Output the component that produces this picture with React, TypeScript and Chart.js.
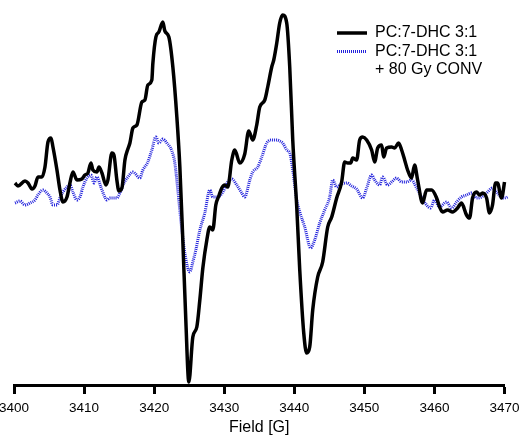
import { useEffect, useRef } from "react";
import { Chart, registerables } from "chart.js";

Chart.register(...registerables);

// EPR spectrum, PC:7-DHC 3:1 (untreated)
const fieldCtl = [
  3400.14, 3400.57, 3401.57, 3402.0, 3402.57, 3402.99, 3403.42, 3403.99, 3404.42, 3404.85,
  3405.28, 3405.56, 3406.13, 3406.56, 3406.99, 3407.56, 3407.98, 3408.41, 3408.98, 3409.69,
  3410.12, 3410.55, 3410.98, 3411.26, 3411.83, 3412.12, 3412.55, 3413.12, 3413.4, 3413.97,
  3414.26, 3414.68, 3414.97, 3415.4, 3415.83, 3416.25, 3416.54, 3416.97, 3417.54, 3418.25,
  3418.68, 3419.1, 3419.67, 3419.82, 3420.25, 3420.67, 3421.24, 3421.53, 3422.1, 3422.67,
  3423.24, 3423.67, 3424.09, 3424.52, 3424.95, 3425.52, 3426.09, 3426.52, 3426.95, 3427.52,
  3427.94, 3428.37, 3428.8, 3429.23, 3429.65, 3430.08, 3430.51, 3431.08, 3431.51, 3432.22,
  3432.93, 3433.5, 3434.07, 3434.64, 3435.07, 3435.79, 3436.21, 3436.78, 3437.07, 3437.5,
  3437.92, 3438.35, 3438.92, 3439.35, 3439.78, 3440.35, 3440.78, 3441.35, 3441.77, 3442.2,
  3442.63, 3443.34, 3444.05, 3444.77, 3445.34, 3446.05, 3446.76, 3447.19, 3447.62, 3448.05,
  3448.33, 3448.9, 3449.33, 3449.76, 3450.33, 3451.04, 3451.47, 3451.9, 3452.47, 3452.75,
  3453.18, 3453.89, 3454.32, 3454.89, 3455.32, 3455.75, 3456.17, 3456.74, 3457.17, 3457.6,
  3458.31, 3458.88, 3459.6, 3460.31, 3460.74, 3461.16, 3461.88, 3462.59, 3463.3, 3463.87,
  3464.58, 3465.01, 3465.44, 3466.01, 3466.44, 3466.87, 3467.44, 3467.86, 3468.29, 3468.72,
  3469.0, 3469.57, 3470.0, 3470.43, 3470.86, 3471.29,
];
const signalCtl = [
  12, 9, 14, 12, 6, 9, 18, 18, 28, 53,
  57, 48, 25, 5, -7, -2, 12, 23, 15, 16,
  20, 22, 32, 25, 23, 28, 22, 10, 15, 42,
  40, 15, 4, 7, 35, 46, 52, 67, 70, 93,
  95, 110, 115, 132, 158, 163, 173, 164, 158, 128,
  78, 28, -45, -125, -187, -142, -132, -105, -73, -45,
  -32, -35, -10, -1, 7, 10, 8, 35, 45, 32,
  41, 64, 55, 70, 88, 95, 108, 128, 135, 152,
  172, 180, 172, 128, 55, -12, -75, -138, -158, -152,
  -115, -82, -67, -32, -22, -3, 13, 33, 32, 32,
  37, 35, 55, 58, 55, 45, 33, 47, 50, 38,
  47, 48, 47, 52, 45, 35, 25, 17, 30, 15,
  -8, 5, 5, -3, -12, -17, -15, -17, -13, -8,
  -20, -23, -3, 3, 0, 2, -3, -18, -10, 12,
  12, -3, 13, 38, 28, 13,
];

// EPR spectrum, PC:7-DHC 3:1 after 80 Gy conventional irradiation
const fieldIrr = [
  3400.14, 3400.86, 3401.57, 3402.28, 3402.99, 3403.42, 3404.13, 3404.7, 3405.13, 3405.56,
  3406.13, 3406.56, 3406.99, 3407.56, 3407.98, 3408.41, 3408.98, 3409.41, 3409.84, 3410.41,
  3410.98, 3411.41, 3411.83, 3412.4, 3412.83, 3413.26, 3413.69, 3414.68, 3415.11, 3415.68,
  3416.25, 3416.97, 3417.96, 3418.39, 3419.1, 3419.67, 3420.25, 3420.67, 3421.24, 3421.81,
  3422.53, 3422.95, 3423.38, 3423.81, 3424.38, 3425.09, 3425.52, 3425.95, 3426.52, 3427.23,
  3427.94, 3428.37, 3429.08, 3429.8, 3430.51, 3431.08, 3431.79, 3432.51, 3432.93, 3433.65,
  3434.07, 3434.79, 3435.36, 3436.07, 3436.78, 3437.5, 3437.92, 3438.35, 3438.92, 3439.35,
  3439.78, 3440.35, 3440.78, 3441.49, 3442.34, 3442.91, 3443.63, 3444.34, 3445.05, 3445.48,
  3446.05, 3446.76, 3447.48, 3448.19, 3448.9, 3449.76, 3450.33, 3451.04, 3451.47, 3452.18,
  3452.61, 3453.32, 3453.89, 3454.6, 3455.32, 3456.03, 3456.74, 3457.46, 3458.17, 3458.88,
  3459.45, 3460.02, 3460.74, 3461.73, 3462.45, 3463.16, 3463.87, 3464.58, 3465.3, 3466.01,
  3466.72, 3467.44, 3468.29, 3469.0, 3469.72, 3470.43, 3471.14,
];
const signalIrr = [
  -8, -6, -10, -8, -5, 0, 5, 2, -2, -10,
  -10, -3, 3, 8, 10, 3, -5, -2, 8, 17,
  20, 12, 18, 8, 0, -5, -3, -3, 2, 12,
  18, 23, 17, 25, 33, 45, 58, 52, 56, 52,
  44, 32, 5, -25, -58, -77, -67, -55, -35, -18,
  5, -2, -2, 3, 13, 16, 10, 2, -2, 15,
  23, 28, 38, 52, 55, 55, 54, 52, 45, 42,
  25, -5, -17, -32, -53, -45, -28, -15, -2, 15,
  8, 11, 12, 9, 6, -3, 7, 20, 15, 10,
  18, 10, 13, 17, 13, 13, 15, 7, -2, -10,
  -13, -5, -12, -7, -13, -7, -2, 0, 2, -3,
  -2, 2, 7, 2, -3, -2, 2,
];

const fieldTicks = [3400, 3410, 3420, 3430, 3440, 3450, 3460, 3470];
const ctlLabel = ["PC:7-DHC 3:1"];
const irrLabel = ["PC:7-DHC 3:1", "+ 80 Gy CONV"];

const ctlColor = "#000000";
const irrColor = "#2323dc";
const fontFamily = "'Liberation Sans', Arial, Helvetica, sans-serif";

const toPoints = (xs: number[], ys: number[]) => xs.map((x, i) => ({ x, y: ys[i] }));

// Legend in the upper right corner: line sample followed by (possibly multi-line) text
const cornerLegend = {
  id: "cornerLegend",
  afterDraw(chart: any) {
    const { ctx } = chart;
    const entries = [
      { lines: ctlLabel, color: ctlColor, dash: [] as number[], width: 3.5 },
      { lines: irrLabel, color: irrColor, dash: [1, 1], width: 3 },
    ];
    const sampleX0 = 337;
    const sampleX1 = 367;
    const textX = 375;
    const lineGap = 18.5;
    let y = 33;
    ctx.save();
    ctx.font = `16px ${fontFamily}`;
    ctx.textBaseline = "middle";
    ctx.textAlign = "left";
    for (const e of entries) {
      ctx.strokeStyle = e.color;
      ctx.lineWidth = e.width;
      ctx.setLineDash(e.dash);
      ctx.beginPath();
      ctx.moveTo(sampleX0, y);
      ctx.lineTo(sampleX1, y);
      ctx.stroke();
      ctx.setLineDash([]);
      ctx.fillStyle = "#000";
      e.lines.forEach((t, i) => ctx.fillText(t, textX, y + i * lineGap));
      y += e.lines.length * lineGap;
    }
    ctx.restore();
  },
};

export default function App() {
  const canvasRef = useRef<HTMLCanvasElement | null>(null);

  useEffect(() => {
    if (!canvasRef.current) return;
    const chart = new Chart(canvasRef.current, {
      type: "line",
      data: {
        datasets: [
          {
            label: ctlLabel.join(" "),
            data: toPoints(fieldCtl, signalCtl),
            borderColor: ctlColor,
            borderWidth: 3.5,
            pointRadius: 0,
            cubicInterpolationMode: "monotone",
            clip: false,
          },
          {
            label: irrLabel.join(" "),
            data: toPoints(fieldIrr, signalIrr),
            borderColor: irrColor,
            borderWidth: 3,
            borderDash: [1, 1],
            pointRadius: 0,
            cubicInterpolationMode: "monotone",
            clip: false,
          },
        ],
      },
      options: {
        animation: false,
        responsive: false,
        maintainAspectRatio: false,
        layout: { padding: { top: 5, right: 27.5, bottom: 0, left: 14 } },
        plugins: {
          legend: { display: false },
          tooltip: { enabled: false },
        },
        scales: {
          x: {
            type: "linear",
            min: 3400,
            max: 3470,
            afterBuildTicks: (scale: any) => {
              scale.ticks = fieldTicks.map((v) => ({ value: v }));
            },
            // end labels may overhang the plot edges; keep the plot width fixed by the layout padding
            afterFit: (scale: any) => {
              scale.paddingLeft = 0;
              scale.paddingRight = 0;
            },
            ticks: {
              color: "#000",
              font: { family: fontFamily, size: 13.5, lineHeight: 0.4 },
              padding: 11.9,
              maxRotation: 0,
              callback: (v: any) => String(v),
            },
            grid: {
              drawOnChartArea: false,
              drawTicks: true,
              tickLength: 9,
              tickWidth: 3,
              tickColor: "#000",
              color: "#000",
            },
            border: { display: true, color: "#000", width: 3 },
            title: {
              display: true,
              text: "Field [G]",
              color: "#000",
              font: { family: fontFamily, size: 16, lineHeight: 0.6 },
              padding: { top: 0, bottom: 6.2 },
            },
          },
          y: {
            display: false,
            min: -190,
            max: 190,
          },
        },
      },
      plugins: [cornerLegend],
    });
    return () => chart.destroy();
  }, []);

  return (
    <div style={{ position: "fixed", left: 0, top: 0, width: 532, height: 439, background: "#fff" }}>
      <canvas ref={canvasRef} width={532} height={439} style={{ width: 532, height: 439 }} />
    </div>
  );
}
